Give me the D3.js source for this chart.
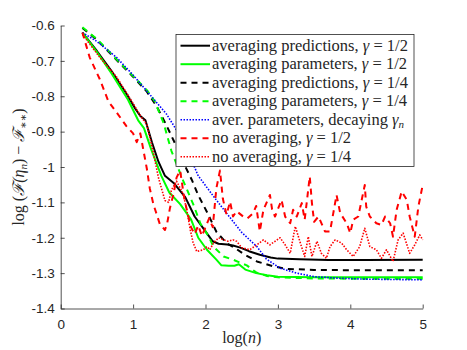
<!DOCTYPE html>
<html>
<head>
<meta charset="utf-8">
<script src="https://cdn.jsdelivr.net/npm/d3@7"></script>
<style>
  body { margin: 0; background: #fff; }
  .tick text { font-family: "Liberation Sans", Arial, sans-serif; font-size: 13.5px; fill: #262626; }
</style>
</head>
<body>
<div id="chart"></div>
<script>
const width = 467
const height = 350
const serif = "Liberation Serif, DejaVu Serif, serif"

// log(n) vs log(F(eta_n) - F_**)
const avgPredHalf = [[0.3,-0.62],[0.5,-0.672],[0.7,-0.728],[0.9,-0.79],[1.03,-0.835],[1.1,-0.856],[1.17,-0.868],[1.26,-0.93],[1.35,-0.985],[1.44,-1.025],[1.56,-1.045],[1.72,-1.085],[1.85,-1.14],[2.0,-1.182],[2.1,-1.21],[2.18,-1.217],[2.3,-1.219],[2.38,-1.222],[2.48,-1.228],[2.6,-1.238],[2.75,-1.248],[2.9,-1.256],[3.0,-1.259],[3.3,-1.261],[3.7,-1.263],[4.2,-1.263],[5,-1.262]]
const avgParamHalf = [[0.3,-0.62],[0.5,-0.675],[0.7,-0.735],[0.93,-0.81],[1.07,-0.868],[1.15,-0.89],[1.25,-0.95],[1.39,-1.025],[1.5,-1.072],[1.65,-1.105],[1.8,-1.148],[1.9,-1.2],[2.02,-1.234],[2.15,-1.262],[2.22,-1.278],[2.32,-1.279],[2.4,-1.279],[2.46,-1.275],[2.55,-1.29],[2.7,-1.3],[2.85,-1.306],[3.0,-1.31],[3.5,-1.312],[4.2,-1.312],[5,-1.312]]
const avgPredQuarter = [[0.3,-0.607],[0.5,-0.64],[0.77,-0.697],[1.0,-0.745],[1.19,-0.787],[1.33,-0.83],[1.45,-0.878],[1.56,-0.925],[1.7,-0.99],[1.81,-1.036],[1.9,-1.08],[2.02,-1.127],[2.15,-1.183],[2.29,-1.215],[2.4,-1.228],[2.52,-1.245],[2.71,-1.267],[2.94,-1.281],[3.12,-1.288],[3.5,-1.291],[4.2,-1.292],[5,-1.292]]
const avgParamQuarter = [[0.3,-0.605],[0.5,-0.638],[0.77,-0.695],[1.0,-0.743],[1.2,-0.785],[1.3,-0.815],[1.42,-0.875],[1.53,-0.955],[1.68,-1.033],[1.83,-1.105],[1.93,-1.16],[2.04,-1.195],[2.11,-1.225],[2.25,-1.253],[2.38,-1.262],[2.57,-1.278],[2.7,-1.298],[2.85,-1.308],[3.0,-1.312],[3.5,-1.315],[4.2,-1.316],[5,-1.316]]
const avgParamDecay = [[0.3,-0.62],[0.5,-0.645],[0.77,-0.69],[1.0,-0.74],[1.23,-0.795],[1.46,-0.85],[1.69,-0.925],[1.9,-1.025],[2.1,-1.08],[2.27,-1.125],[2.5,-1.185],[2.71,-1.225],[2.84,-1.26],[3.03,-1.286],[3.26,-1.3],[3.5,-1.31],[3.8,-1.314],[4.2,-1.317],[5,-1.319]]
const noAvgHalf = [[0.3,-0.62],[0.4,-0.69],[0.54,-0.752],[0.66,-0.815],[0.77,-0.845],[0.91,-0.885],[1.0,-0.905],[1.05,-0.93],[1.1,-0.905],[1.14,-0.95],[1.19,-1.005],[1.23,-1.06],[1.28,-1.105],[1.37,-1.162],[1.44,-1.178],[1.47,-1.16],[1.51,-1.115],[1.56,-1.075],[1.6,-1.03],[1.65,-1.01],[1.7,-1.08],[1.75,-1.13],[1.8,-1.17],[1.85,-1.19],[1.9,-1.165],[1.95,-1.195],[2.0,-1.17],[2.05,-1.145],[2.1,-1.17],[2.15,-1.06],[2.2,-1.01],[2.24,-1.09],[2.29,-1.135],[2.34,-1.098],[2.38,-1.14],[2.43,-1.125],[2.52,-1.14],[2.58,-1.145],[2.66,-1.13],[2.7,-1.11],[2.75,-1.182],[2.8,-1.121],[2.89,-1.079],[2.92,-1.12],[2.96,-1.14],[3.05,-1.093],[3.1,-1.14],[3.17,-1.159],[3.21,-1.121],[3.26,-1.14],[3.33,-1.102],[3.37,-1.149],[3.44,-1.027],[3.47,-1.102],[3.5,-1.155],[3.56,-1.14],[3.65,-1.182],[3.72,-1.182],[3.81,-1.079],[3.86,-1.13],[3.95,-1.159],[4.0,-1.187],[4.04,-1.149],[4.11,-1.14],[4.2,-1.051],[4.22,-1.112],[4.27,-1.14],[4.36,-1.159],[4.43,-1.164],[4.48,-1.14],[4.55,-1.159],[4.59,-1.197],[4.64,-1.121],[4.71,-1.069],[4.78,-1.093],[4.82,-1.14],[4.89,-1.197],[4.94,-1.112],[5.0,-1.051]]
const noAvgQuarter = [[0.3,-0.625],[0.54,-0.69],[0.77,-0.745],[1.0,-0.82],[1.1,-0.855],[1.19,-0.88],[1.28,-0.96],[1.35,-1.03],[1.44,-1.095],[1.49,-1.1],[1.53,-1.065],[1.6,-1.04],[1.69,-1.075],[1.74,-1.12],[1.79,-1.178],[1.83,-1.215],[1.88,-1.239],[1.97,-1.234],[2.02,-1.225],[2.06,-1.234],[2.11,-1.215],[2.18,-1.2],[2.25,-1.206],[2.31,-1.21],[2.38,-1.206],[2.43,-1.21],[2.5,-1.228],[2.61,-1.234],[2.71,-1.22],[2.8,-1.206],[2.89,-1.22],[2.96,-1.21],[3.03,-1.2],[3.1,-1.22],[3.17,-1.244],[3.24,-1.168],[3.31,-1.215],[3.37,-1.253],[3.42,-1.197],[3.47,-1.253],[3.54,-1.21],[3.6,-1.244],[3.67,-1.258],[3.72,-1.225],[3.79,-1.206],[3.88,-1.215],[3.95,-1.234],[4.04,-1.253],[4.13,-1.225],[4.2,-1.173],[4.27,-1.225],[4.36,-1.234],[4.43,-1.258],[4.5,-1.234],[4.59,-1.267],[4.66,-1.206],[4.73,-1.187],[4.82,-1.244],[4.89,-1.22],[4.96,-1.192],[5.0,-1.206]]

const xTicks = [0, 1, 2, 3, 4, 5]
const yTicks = [-1.4, -1.3, -1.2, -1.1, -1, -0.9, -0.8, -0.7, -0.6]

// legend text: [plain part, gamma subscript or value]
const legendLabels = [
    ["averaging predictions, ", " = 1/2"],
    ["averaging parameters, ", " = 1/2"],
    ["averaging predictions, ", " = 1/4"],
    ["averaging parameters, ", " = 1/4"],
    ["aver. parameters, decaying ", "n"],
    ["no averaging, ", " = 1/2"],
    ["no averaging, ", " = 1/4"],
]

const series = [
    { data: avgPredHalf, color: "#000000", dash: null, w: 2 },
    { data: avgParamHalf, color: "#00ff00", dash: null, w: 2 },
    { data: avgPredQuarter, color: "#000000", dash: "6,5", w: 2 },
    { data: avgParamQuarter, color: "#00ff00", dash: "6,5", w: 2 },
    { data: avgParamDecay, color: "#0000ff", dash: "1.5,1.5", w: 1.6 },
    { data: noAvgHalf, color: "#ff0000", dash: "6,5", w: 2 },
    { data: noAvgQuarter, color: "#ff0000", dash: "1.5,1.5", w: 1.6 },
]

const margin = { left: 60.7, right: 44.3, top: 25.5, bottom: 41.5 }

const x = d3.scaleLinear().domain([0, 5]).range([margin.left, width - margin.right])
const y = d3.scaleLinear().domain([-1.4, -0.6]).range([height - margin.bottom, margin.top])

const svg = d3.select("#chart").append("svg").attr("width", width).attr("height", height)

const line = d3
    .line()
    .x((d) => x(d[0]))
    .y((d) => y(d[1]))

svg.selectAll(".series")
    .data(series)
    .enter()
    .append("path")
    .attr("class", "series")
    .attr("d", (s) => line(s.data))
    .attr("fill", "none")
    .attr("stroke", (s) => s.color)
    .attr("stroke-width", (s) => s.w)
    .attr("stroke-dasharray", (s) => s.dash)
    .attr("stroke-linejoin", "round")

// --- axes (MATLAB style, inward ticks, no box) ---
const xAxis = svg
    .append("g")
    .attr("transform", `translate(0,${y(-1.4)})`)
    .call(d3.axisBottom(x).tickValues(xTicks).tickSize(-4).tickSizeOuter(0).tickPadding(8).tickFormat((d) => String(d)))
const yAxis = svg
    .append("g")
    .attr("transform", `translate(${x(0)},0)`)
    .call(
        d3
            .axisLeft(y)
            .tickValues(yTicks)
            .tickSize(-4)
            .tickSizeOuter(0)
            .tickPadding(6)
            .tickFormat((d) => String(+d.toFixed(1))),
    )

;[xAxis, yAxis].forEach((g) => {
    g.select(".domain").attr("stroke", "#262626").attr("stroke-width", 0.8)
    g.selectAll(".tick line").attr("stroke", "#262626").attr("stroke-width", 0.8)
})
xAxis.selectAll(".tick text").attr("dy", "0.9em")

// x label
const xl = svg
    .append("text")
    .attr("x", x(2.5))
    .attr("y", 343)
    .attr("text-anchor", "middle")
    .style("font-family", serif)
    .attr("font-size", 16)
    .attr("fill", "#262626")
xl.append("tspan").text("log(")
xl.append("tspan").attr("font-style", "italic").text("n")
xl.append("tspan").text(")")

// y label
const yl = svg
    .append("text")
    .attr("transform", `translate(24,${(y(-0.6) + y(-1.4)) / 2}) rotate(-90)`)
    .attr("text-anchor", "middle")
    .style("font-family", serif)
    .attr("font-size", 16)
    .attr("fill", "#262626")
yl.append("tspan").text("log (")
yl.append("tspan").attr("font-style", "italic").text("ℱ(η")
yl.append("tspan").attr("font-style", "italic").attr("font-size", 11).attr("dy", 3).text("n")
yl.append("tspan").attr("dy", -3).text(") − ")
yl.append("tspan").attr("font-style", "italic").text("ℱ")
yl.append("tspan").attr("font-size", 11).attr("dy", 3).text("∗∗")
yl.append("tspan").attr("dy", -3).text(")")

// --- legend ---
const legend = svg.append("g").attr("transform", "translate(176,34.5)")
legend
    .append("rect")
    .attr("width", 238)
    .attr("height", 132)
    .attr("fill", "#fff")
    .attr("stroke", "#262626")
    .attr("stroke-width", 0.8)

const rows = legend
    .selectAll(".row")
    .data(series)
    .enter()
    .append("g")
    .attr("transform", (_, i) => `translate(0,${11.2 + i * 18.5})`)

rows.append("line")
    .attr("x1", 4.5)
    .attr("x2", 34)
    .attr("stroke", (s) => s.color)
    .attr("stroke-width", (s) => s.w)
    .attr("stroke-dasharray", (s) => s.dash)

const labels = rows
    .append("text")
    .attr("x", 36)
    .attr("y", 5)
    .style("font-family", serif)
    .attr("font-size", 16.5)
    .attr("fill", "#262626")

labels.each(function (_, i) {
    const t = d3.select(this)
    const [plain, rest] = legendLabels[i]
    t.append("tspan").text(plain)
    t.append("tspan").attr("font-style", "italic").text("γ")
    if (rest === "n") {
        t.append("tspan").attr("font-style", "italic").attr("font-size", 11).attr("dy", 3).text("n")
    } else {
        t.append("tspan").text(rest)
    }
})
</script>
</body>
</html>
